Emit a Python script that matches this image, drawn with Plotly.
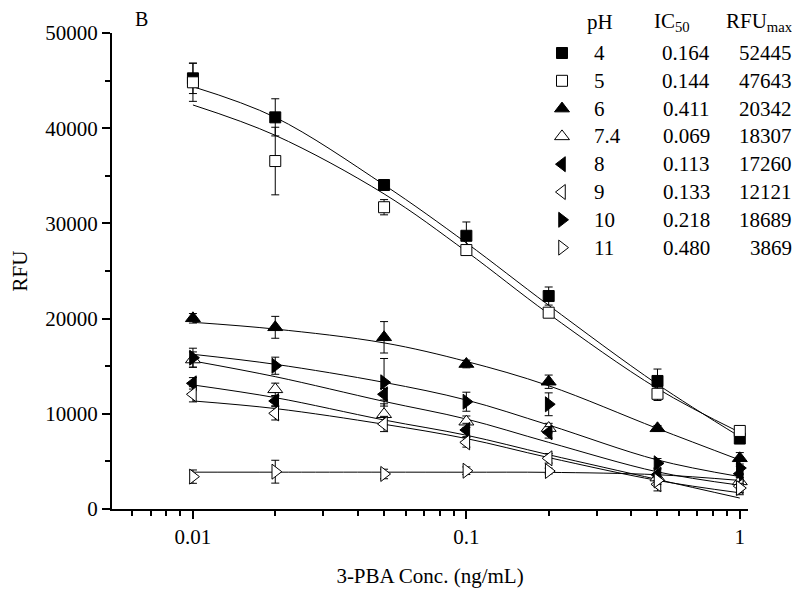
import plotly.graph_objects as go

# concentrations (ng/mL)
conc = [0.01, 0.02, 0.05, 0.1, 0.2, 0.5, 1]

ph_labels = ["4", "5", "6", "7.4", "8", "9", "10", "11"]
ic50 = ["0.164", "0.144", "0.411", "0.069", "0.113", "0.133", "0.218", "0.480"]
rfu_max = ["52445", "47643", "20342", "18307", "17260", "12121", "18689", "3869"]

# measured RFU (mean) per pH
rfu = {
    "4": [45240, 41140, 34030, 28700, 22370, 13450, 7400],
    "5": [44820, 36550, 31700, 27200, 20620, 12100, 8200],
    "6": [20030, 19085, 18035, 15230, 13370, 8475, 5325],
    "7.4": [15700, 12570, 9950, 9170, 8500, 3300, 2900],
    "8": [13200, 11345, 12050, 8300, 8050, 3600, 3700],
    "9": [12050, 10050, 8930, 7000, 5325, 2600, 2400],
    "10": [15890, 15050, 13310, 11270, 11000, 4800, 4300],
    "11": [3400, 3920, 3680, 4020, 3990, 3000, 2200],
}
# standard deviations
sd = {
    "4": [1600, 1950, 500, 1450, 950, 1250, 400],
    "5": [2000, 3550, 800, 400, 400, 700, 400],
    "6": [500, 1150, 1650, 400, 700, 300, 600],
    "7.4": [800, 650, 1100, 600, 500, 500, 800],
    "8": [600, 500, 600, 700, 600, 600, 800],
    "9": [800, 700, 800, 500, 500, 700, 900],
    "10": [1000, 900, 2500, 1000, 1200, 500, 700],
    "11": [700, 1200, 500, 400, 300, 400, 500],
}
# fitted curves
fit = {
    "4": [44360, 41140, 34050, 27950, 21400, 13100, 7600],
    "5": [42440, 39250, 33100, 27050, 20500, 12650, 8050],
    "6": [19610, 18900, 17450, 15500, 12950, 8450, 5150],
    "7.4": [15550, 13900, 11300, 9450, 7000, 3900, 2500],
    "8": [13030, 11700, 9350, 7750, 5700, 3100, 1150],
    "9": [11350, 10550, 8900, 7400, 5400, 3000, 1700],
    "10": [16250, 15200, 13300, 11450, 8820, 5150, 3400],
    "11": [3870, 3870, 3870, 3865, 3850, 3600, 3000],
}

symbols = {
    "4": ("square", True), "5": ("square", False),
    "6": ("triangle-up", True), "7.4": ("triangle-up", False),
    "8": ("triangle-left", True), "9": ("triangle-left", False),
    "10": ("triangle-right", True), "11": ("triangle-right", False),
}

FONT = "Liberation Serif"
OFF = 8  # default body margin of the page
W, H = 800 - OFF, 591 - OFF
L, T = 112, 33  # plot area corner in page pixels
PW, PH = 636, 476


def px_x(px):
    return (px - L) / PW


def px_y(py):
    return 1 - (py - T) / PH


def marker_style(ph):
    sym, filled = symbols[ph]
    return dict(
        symbol=sym, size=11 if sym == "square" else 13,
        color="black" if filled else "white", line=dict(color="black", width=1),
    )


fig = go.Figure()

# fitted curves
for ph in ph_labels:
    fig.add_trace(
        go.Scatter(
            x=conc, y=fit[ph], mode="lines", line=dict(color="black", width=1, shape="spline"),
            showlegend=False, hoverinfo="skip",
        )
    )

# data points with error bars
for ph in ph_labels:
    fig.add_trace(
        go.Scatter(
            x=conc, y=rfu[ph], mode="markers", name=ph, showlegend=False,
            marker=marker_style(ph),
            error_y=dict(type="data", array=sd[ph], color="black", thickness=1, width=4),
        )
    )

# legend keys (table rows)
row_py = [53 + i * 27.8 for i in range(len(ph_labels))]
for i, ph in enumerate(ph_labels):
    fig.add_trace(
        go.Scatter(
            x=[px_x(562)], y=[px_y(row_py[i])], xaxis="x2", yaxis="y2", mode="markers",
            marker=marker_style(ph), showlegend=False, hoverinfo="skip", cliponaxis=False,
        )
    )

annotations = []
tf = dict(family=FONT, size=21, color="black")
for i, ph in enumerate(ph_labels):
    y = px_y(row_py[i])
    annotations.append(dict(x=px_x(592), y=y, text=ph, xanchor="left"))
    annotations.append(dict(x=px_x(686), y=y, text=ic50[i], xanchor="center"))
    annotations.append(dict(x=px_x(794), y=y, text=rfu_max[i], xanchor="right"))
hy = px_y(22)
annotations.append(dict(x=px_x(600), y=hy, text="pH", xanchor="center"))
annotations.append(dict(x=px_x(652), y=hy, text="IC<sub>50</sub>", xanchor="left"))
annotations.append(dict(x=px_x(795), y=hy, text="RFU<sub>max</sub>", xanchor="right"))
annotations.append(dict(x=px_x(141), y=px_y(19), text="B", xanchor="center", font=dict(family=FONT, size=20, color="black")))
for a in annotations:
    a.update(xref="paper", yref="paper", yanchor="middle", showarrow=False)
    a.setdefault("font", tf)

fig.update_layout(
    width=W, height=H,
    margin=dict(l=L - OFF, r=W - (L - OFF) - PW, t=T - OFF, b=H - (T - OFF) - PH, autoexpand=False),
    paper_bgcolor="white", plot_bgcolor="white",
    font=dict(family=FONT, size=21, color="black"),
    xaxis=dict(
        type="log", range=[-2.296, 0.03], tickvals=[0.01, 0.1, 1], ticktext=["0.01", "0.1", "1"],
        showline=True, linecolor="black", linewidth=2, ticks="outside", ticklen=8, tickwidth=2,
        tickcolor="black", showgrid=False, zeroline=False, automargin=False,
        minor=dict(ticks="outside", ticklen=5, tickwidth=1.5, tickcolor="black", dtick="D1", showgrid=False),
        title=dict(text="3-PBA Conc. (ng/mL)", standoff=20, font=dict(size=21)),
        tickfont=dict(size=21),
    ),
    yaxis=dict(
        range=[0, 50000], dtick=10000, tickformat="d", showline=True, linecolor="black", linewidth=2,
        ticks="outside", ticklen=8, tickwidth=2, tickcolor="black", showgrid=False, zeroline=False,
        automargin=False,
        minor=dict(ticks="outside", ticklen=5, tickwidth=1.5, tickcolor="black", dtick=5000, showgrid=False),
        title=dict(text="RFU", standoff=12, font=dict(size=21)),
        tickfont=dict(size=21),
    ),
    xaxis2=dict(overlaying="x", range=[0, 1], visible=False),
    yaxis2=dict(overlaying="y", range=[0, 1], visible=False),
    annotations=annotations,
)

fig.write_html("out.html")
